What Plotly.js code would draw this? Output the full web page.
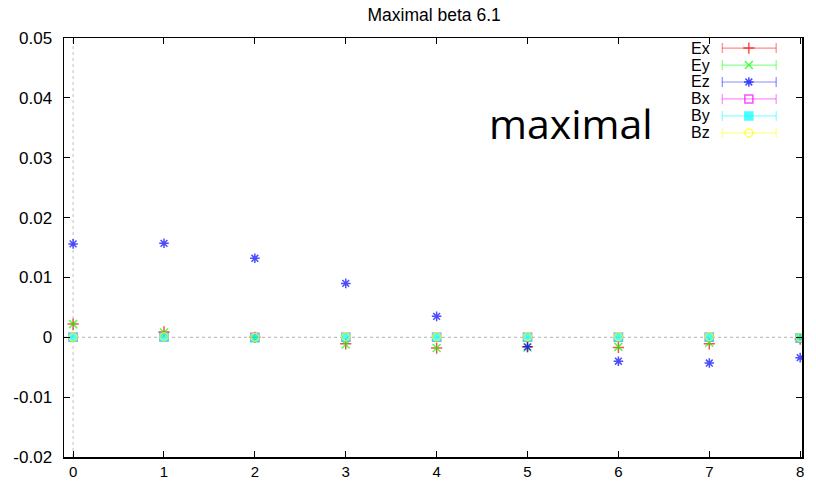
<!DOCTYPE html>
<html>
<head>
<meta charset="utf-8">
<script src="https://cdn.plot.ly/plotly-3.0.1.min.js"></script>
<style>html,body{margin:0;padding:0;background:#fff;}#chart{width:816px;height:481px;}</style>
</head>
<body>
<div id="chart"></div>
<script>
// ---- data ----
const xVals = [0, 1, 2, 3, 4, 5, 6, 7, 8];
const seriesNames = ["Ex", "Ey", "Ez", "Bx", "By", "Bz"];
const Ex = [0.0022, 0.0009, 0.0000, -0.0011, -0.0018, -0.0016, -0.0017, -0.0011, -0.0003];
const Ey = [0.0022, 0.0008, -0.0001, -0.0012, -0.0018, -0.0017, -0.0016, -0.0009, -0.0002];
const Ez = [0.0156, 0.0157, 0.0132, 0.0090, 0.0035, -0.0016, -0.0040, -0.0043, -0.0034];
const Bx = [0.0000, 0.0001, 0.0000, 0.0000, 0.0000, 0.0000, 0.0000, 0.0000, -0.0001];
const By = [0.0000, 0.0000, -0.0001, 0.0000, 0.0000, 0.0000, 0.0000, 0.0000, -0.0001];
const Bz = [0.0000, 0.0001, 0.0000, 0.0001, 0.0001, 0.0001, 0.0001, 0.0001, 0.0000];
const yTickVals = [-0.02, -0.01, 0, 0.01, 0.02, 0.03, 0.04, 0.05];
const yTickText = ["-0.02", "-0.01", "0", "0.01", "0.02", "0.03", "0.04", "0.05"];
const xTickVals = [0, 1, 2, 3, 4, 5, 6, 7, 8];

// ---- styles ----
const values = [Ex, Ey, Ez, Bx, By, Bz];
const colors = ["#ff0000", "#00ff00", "#0000ff", "#ff00ff", "#00ffff", "#ffff00"];
const symbols = ["cross-thin-open", "x-thin-open", "asterisk-open", "square-open", "square", "circle-open"];
const FONT = "Liberation Sans, Arial, sans-serif";

const traces = [];
values.forEach((v, i) => {
  traces.push({
    type: "scatter", mode: "markers", x: xVals, y: v, name: seriesNames[i],
    showlegend: false, hoverinfo: "skip",
    marker: { symbol: symbols[i], size: 8, color: colors[i], opacity: 0.7,
              line: { color: colors[i], width: 1.5 } }
  });
});

// manual gnuplot-style legend (text left of sample)
const legTop = 0.976, legStep = 0.0405;
const lx0 = 0.892, lx1 = 0.965, lxm = 0.928, ltx = 0.878;
const shapes = [
  { type: "line", xref: "x", yref: "y", x0: -0.1, x1: 8.02, y0: 0, y1: 0,
    line: { color: "#b0b0b0", width: 1, dash: "dot" }, layer: "below" },
  { type: "line", xref: "x", yref: "y", x0: 0, x1: 0, y0: -0.02, y1: 0.05,
    line: { color: "#c0c0c0", width: 1, dash: "dot" }, layer: "below" }
];
const annotations = [];
seriesNames.forEach((n, i) => {
  const yy = legTop - i * legStep;
  const c = colors[i];
  shapes.push({ type: "line", xref: "paper", yref: "paper", x0: lx0, x1: lx1, y0: yy, y1: yy,
                line: { color: c, width: 1.2 }, opacity: 0.45 });
  shapes.push({ type: "line", xref: "paper", yref: "paper", x0: lx0, x1: lx0, y0: yy - 0.012, y1: yy + 0.012,
                line: { color: c, width: 1.2 }, opacity: 0.45 });
  shapes.push({ type: "line", xref: "paper", yref: "paper", x0: lx1, x1: lx1, y0: yy - 0.012, y1: yy + 0.012,
                line: { color: c, width: 1.2 }, opacity: 0.45 });
  annotations.push({ xref: "paper", yref: "paper", x: ltx, y: yy, xanchor: "right", yanchor: "middle",
                     text: n, showarrow: false, font: { family: FONT, size: 16, color: "#000" } });
  traces.push({
    type: "scatter", mode: "markers", x: [lxm], y: [yy], xaxis: "x2", yaxis: "y2",
    showlegend: false, hoverinfo: "skip",
    marker: { symbol: symbols[i], size: 8, color: c, opacity: 0.7, line: { color: c, width: 1.5 } }
  });
});

annotations.push({ xref: "paper", yref: "paper", x: 0.687, y: 0.798, xanchor: "center", yanchor: "middle",
                   text: "maximal", showarrow: false,
                   font: { family: "Open Sans, Noto Sans, sans-serif", size: 41, color: "#000" } });

const layout = {
  width: 816, height: 481,
  margin: { l: 64, r: 14, t: 38, b: 24 },
  paper_bgcolor: "#fff", plot_bgcolor: "#fff",
  title: { text: "Maximal beta 6.1", x: 0.532, xanchor: "center", y: 0.97, yanchor: "middle",
           font: { family: FONT, size: 17.5, color: "#000" } },
  showlegend: false,
  xaxis: { range: [-0.1, 8.02], tickvals: xTickVals, ticks: "inside", ticklen: 6, tickwidth: 1,
           tickcolor: "#000", mirror: "ticks", showline: true, linecolor: "#000", linewidth: 1.5,
           showgrid: false, zeroline: false, ticklabelstandoff: 0,
           tickfont: { family: FONT, size: 15, color: "#000" } },
  yaxis: { range: [-0.02, 0.05], tickvals: yTickVals, ticktext: yTickText, ticks: "inside", ticklen: 6,
           tickwidth: 1, tickcolor: "#000", mirror: "ticks", showline: true, linecolor: "#000",
           linewidth: 1.5, showgrid: false, zeroline: false, ticklabelstandoff: 7,
           tickfont: { family: FONT, size: 17, color: "#000" } },
  xaxis2: { overlaying: "x", range: [0, 1], visible: false, fixedrange: true },
  yaxis2: { overlaying: "y", range: [0, 1], visible: false, fixedrange: true },
  shapes: shapes,
  annotations: annotations
};

Plotly.newPlot("chart", traces, layout, { displayModeBar: false, staticPlot: true });
</script>
</body>
</html>
